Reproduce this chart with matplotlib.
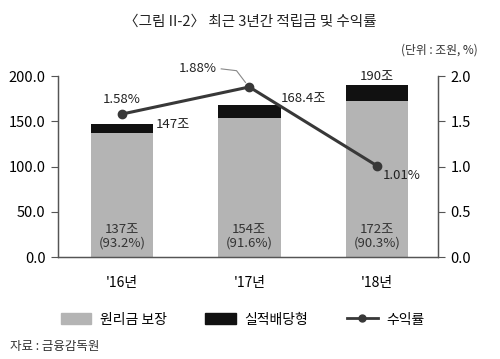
import numpy as np
import matplotlib.pyplot as plt
from matplotlib.patches import Patch
from matplotlib.lines import Line2D

plt.rcParams['font.family'] = ['Noto Sans CJK KR', 'DejaVu Sans']

years = ["'16년", "'17년", "'18년"]
guaranteed = [137, 154, 172]
performance = [10, 14.4, 18]
totals = ['147조', '168.4조', '190조']
guar_labels = ['137조\n(93.2%)', '154조\n(91.6%)', '172조\n(90.3%)']
rate = [1.58, 1.88, 1.01]

fig = plt.figure(figsize=(5, 3.59), dpi=100)
ax = fig.add_axes([0.116, 0.284, 0.76, 0.504])
ax2 = ax.twinx()

x = np.arange(len(years))
w = 0.49
ax.bar(x, guaranteed, w, color='#b4b4b4', zorder=2)
ax.bar(x, performance, w, bottom=guaranteed, color='#111111', zorder=2)

ax.set_xlim(-0.5, 2.48)
ax.set_ylim(0, 200)
ax.set_yticks(np.arange(0, 201, 50))
ax.set_yticklabels(['%.1f' % v for v in np.arange(0, 201, 50)])
ax.set_xticks(x)
ax.set_xticklabels(years)
ax.tick_params(axis='x', length=0, pad=14, labelsize=10)
ax.tick_params(axis='y', length=5, width=0.8, color='#555555', labelsize=10.5, pad=4)

ax2.set_ylim(0, 2)
ax2.set_yticks(np.arange(0, 2.01, 0.5))
ax2.set_yticklabels(['%.1f' % v for v in np.arange(0, 2.01, 0.5)])
ax2.tick_params(axis='y', length=5, width=0.8, color='#555555', labelsize=10.5, pad=4)
ax2.plot(x, rate, color='#383838', lw=2.2, marker='o', ms=6, zorder=5)

for a in (ax, ax2):
    a.spines['top'].set_visible(False)
    for s in ('left', 'right', 'bottom'):
        a.spines[s].set_color('#555555')
        a.spines[s].set_linewidth(0.9)

# bar annotations
for i in range(3):
    ax.text(x[i], 8, guar_labels[i], ha='center', va='bottom', fontsize=9.5,
            color='#333333', linespacing=1.1)
ax.text(0.27, 147, totals[0], ha='left', va='center', fontsize=9.5, color='#222222')
ax.text(1.25, 175.5, totals[1], ha='left', va='center', fontsize=9.5, color='#222222')
ax.text(2.0, 192, totals[2], ha='center', va='bottom', fontsize=9.5, color='#222222')

# rate annotations
ax2.text(0.0, 1.67, '1.58%', ha='center', va='bottom', fontsize=9.5, color='#222222')
ax2.text(0.6, 2.08, '1.88%', ha='center', va='center', fontsize=9.5, color='#222222',
         clip_on=False)
ax2.plot([0.78, 0.9, 0.97], [2.08, 2.06, 1.93], color='#888888', lw=0.8,
         clip_on=False)
ax2.text(2.05, 0.9, '1.01%', ha='left', va='center', fontsize=9.5, color='#222222')

# title and unit
fig.text(0.5, 0.94, '〈그림 II-2〉 최근 3년간 적립금 및 수익률', ha='center', va='center',
         fontsize=10.5, color='#222222')
fig.text(0.955, 0.862, '(단위 : 조원, %)', ha='right', va='center', fontsize=8.5,
         color='#333333')

handles = [Patch(color='#b4b4b4'), Patch(color='#111111'),
           Line2D([0], [0], color='#383838', lw=2, marker='o', ms=5)]
labels = ['원리금 보장', '실적배당형', '수익률']
fig.legend(handles, labels, loc='center', bbox_to_anchor=(0.485, 0.11), ncol=3,
           frameon=False, fontsize=10, handlelength=2.2, handleheight=0.8,
           columnspacing=2.8, handletextpad=0.6)

fig.text(0.02, 0.035, '자료 : 금융감독원', ha='left', va='center', fontsize=9,
         color='#333333')

fig.savefig('out.png', dpi=100, facecolor='white')
